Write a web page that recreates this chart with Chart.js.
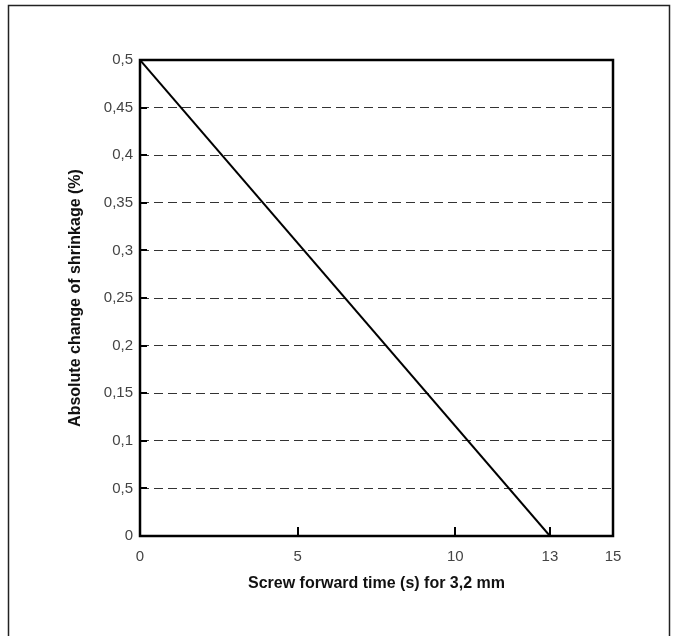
<!DOCTYPE html>
<html>
<head>
<meta charset="utf-8">
<script src="https://cdn.jsdelivr.net/npm/chart.js@4/dist/chart.umd.min.js"></script>
<style>
  html, body { margin: 0; padding: 0; background: #fff; }
  #wrap { position: relative; width: 673px; height: 636px; }
</style>
</head>
<body>
<div id="wrap"><canvas id="c" width="673" height="636"></canvas></div>
<script>
// ---- data ----
const xValues = [0, 13];
const yValues = [0.5, 0];
const xTickValues = [0, 5, 10, 13, 15];
const yTickValues = [0, 0.05, 0.1, 0.15, 0.2, 0.25, 0.3, 0.35, 0.4, 0.45, 0.5];
const yTickLabels = ['0', '0,5', '0,1', '0,15', '0,2', '0,25', '0,3', '0,35', '0,4', '0,45', '0,5'];
const xTitle = 'Screw forward time (s) for 3,2 mm';
const yTitle = 'Absolute change of shrinkage (%)';

const FONT = "'Liberation Sans', Arial, sans-serif";

const framePlugin = {
  id: 'frame',
  beforeDraw(chart) {
    const ctx = chart.ctx;
    ctx.save();
    ctx.fillStyle = '#fff';
    ctx.fillRect(0, 0, chart.width, chart.height);
    ctx.strokeStyle = '#222';
    ctx.lineWidth = 1.5;
    ctx.beginPath();
    ctx.moveTo(8.5, 640);
    ctx.lineTo(8.5, 5.5);
    ctx.lineTo(669.5, 5.5);
    ctx.lineTo(669.5, 640);
    ctx.stroke();
    ctx.restore();
  },
  afterDatasetsDraw(chart) {
    const ctx = chart.ctx;
    const a = chart.chartArea;
    const xs = chart.scales.x, ys = chart.scales.y;
    ctx.save();
    ctx.strokeStyle = '#000';
    ctx.lineWidth = 2;
    ctx.beginPath();
    yTickValues.forEach(v => {
      const py = Math.round(ys.getPixelForValue(v));
      if (v > 0 && v < 0.5) { ctx.moveTo(a.left, py); ctx.lineTo(a.left + 7, py); }
    });
    xTickValues.forEach(v => {
      const px = Math.round(xs.getPixelForValue(v));
      if (v > 0 && v < 15) { ctx.moveTo(px, a.bottom); ctx.lineTo(px, a.bottom - 9); }
    });
    ctx.stroke();
    ctx.lineWidth = 2.5;
    ctx.strokeRect(a.left, a.top, a.right - a.left, a.bottom - a.top);
    ctx.restore();
  }
};

new Chart(document.getElementById('c'), {
  type: 'scatter',
  data: {
    datasets: [{
      data: xValues.map((x, i) => ({ x, y: yValues[i] })),
      showLine: true,
      borderColor: '#000',
      borderWidth: 2,
      pointRadius: 0,
      fill: false
    }]
  },
  options: {
    responsive: false,
    animation: false,
    devicePixelRatio: 1,
    layout: { padding: { left: 0, top: 60, right: 60, bottom: 0 } },
    plugins: { legend: { display: false }, tooltip: { enabled: false }, title: { display: false } },
    scales: {
      x: {
        type: 'linear', min: 0, max: 15,
        afterBuildTicks(scale) { scale.ticks = xTickValues.map(v => ({ value: v })); },
        afterFit(scale) { scale.height = 100; },
        grid: { display: false, drawTicks: false },
        border: { display: false },
        ticks: { color: '#444', padding: 12, font: { family: FONT, size: 15 }, maxRotation: 0, autoSkip: false,
          callback: v => String(v) },
        title: { display: true, text: xTitle, color: '#111', font: { family: FONT, size: 16, weight: 'bold' }, padding: { top: 0, bottom: 43 } }
      },
      y: {
        type: 'linear', min: 0, max: 0.5,
        afterBuildTicks(scale) { scale.ticks = yTickValues.map(v => ({ value: v })); },
        afterFit(scale) { scale.width = 140; },
        grid: { display: true, drawTicks: false, color: '#333', lineWidth: 1 },
        border: { display: false, dash: [9, 5] },
        ticks: { color: '#444', padding: 7, font: { family: FONT, size: 15 }, autoSkip: false,
          callback: (v, i) => yTickLabels[i] },
        title: { display: true, text: yTitle, color: '#111', font: { family: FONT, size: 16, weight: 'bold' }, padding: { top: 66, bottom: 0 } }
      }
    }
  },
  plugins: [framePlugin]
});
</script>
</body>
</html>
